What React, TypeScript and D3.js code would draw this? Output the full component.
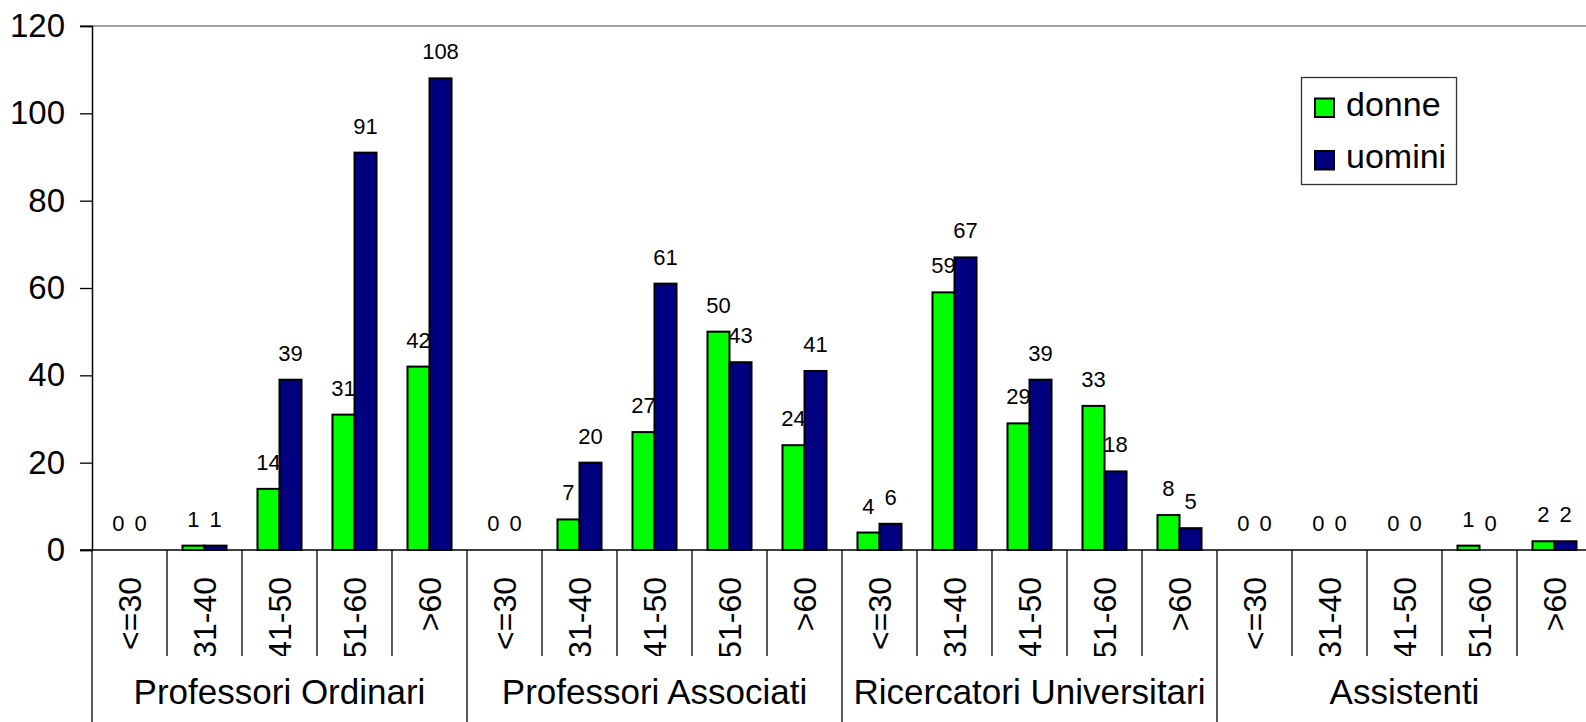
import { useEffect, useRef } from "react";
import * as d3 from "d3";

const groups = ["Professori Ordinari", "Professori Associati", "Ricercatori Universitari", "Assistenti"];
const ageBands = ["<=30", "31-40", "41-50", "51-60", ">60"];
const series = ["donne", "uomini"];

// one value per group × age band, in order
const donne = [0, 1, 14, 31, 42, 0, 7, 27, 50, 24, 4, 59, 29, 33, 8, 0, 0, 0, 1, 2];
const uomini = [0, 1, 39, 91, 108, 0, 20, 61, 43, 41, 6, 67, 39, 18, 5, 0, 0, 0, 0, 2];

const yTicks = [0, 20, 40, 60, 80, 100, 120];

const COLORS: Record<string, string> = { donne: "#00ff00", uomini: "#000080" };
const FONT = "'Liberation Sans', Arial, sans-serif";

export default function App() {
  const svgRef = useRef<SVGSVGElement>(null);

  useEffect(() => {
    if (!svgRef.current) return;
    const svg = d3.select(svgRef.current);
    svg.selectAll("*").remove();

    const W = 1586, H = 722;
    const left = 92, right = 1592, top = 26, base = 550;
    const labelBottom = 656;

    const keys = groups.flatMap((g) => ageBands.map((b) => `${g}|${b}`));
    const rows = keys.map((k, i) => ({ key: k, donne: donne[i], uomini: uomini[i] }));

    const x = d3.scaleBand<string>().domain(keys).range([left, right]).paddingInner(0.413).paddingOuter(0.2065);
    const xs = d3.scaleBand<string>().domain(series).range([0, x.bandwidth()]);
    const y = d3.scaleLinear().domain([0, 120]).range([base, top]);
    const half = (x.step() - x.bandwidth()) / 2;
    const cellLeft = (k: string) => (x(k) ?? 0) - half;

    svg.attr("width", W).attr("height", H);

    // top border of plot area
    svg.append("line")
      .attr("x1", 80).attr("x2", right).attr("y1", top).attr("y2", top)
      .attr("stroke", "#808080").attr("stroke-width", 1.5);

    // bars + value labels
    const g = svg.append("g");
    rows.forEach((r) => {
      series.forEach((s) => {
        const v = (r as any)[s] as number;
        const bx = (x(r.key) ?? 0) + (xs(s) ?? 0);
        g.append("rect")
          .attr("x", bx).attr("y", y(v))
          .attr("width", xs.bandwidth()).attr("height", base - y(v))
          .attr("fill", COLORS[s]).attr("stroke", "#000").attr("stroke-width", 2);
        g.append("text")
          .attr("x", bx + xs.bandwidth() / 2).attr("y", y(v) - 19)
          .attr("text-anchor", "middle").attr("font-family", FONT).attr("font-size", 22)
          .attr("fill", "#000").text(v);
      });
    });

    // y axis
    const ya = svg.append("g").attr("transform", `translate(${left},0)`)
      .call(d3.axisLeft(y).tickValues(yTicks).tickSize(12).tickPadding(15));
    ya.select(".domain").attr("stroke", "#000").attr("stroke-width", 1.5);
    ya.selectAll(".tick line").attr("stroke", "#000").attr("stroke-width", 1.3);
    ya.selectAll(".tick text").attr("font-family", FONT).attr("font-size", 33).attr("fill", "#000");

    // x baseline
    svg.append("line")
      .attr("x1", 80).attr("x2", right).attr("y1", base).attr("y2", base)
      .attr("stroke", "#000").attr("stroke-width", 1.5);

    // category separators
    keys.forEach((k, i) => {
      const isGroup = i % ageBands.length === 0;
      svg.append("line")
        .attr("x1", cellLeft(k)).attr("x2", cellLeft(k))
        .attr("y1", base).attr("y2", isGroup ? H : labelBottom)
        .attr("stroke", "#000").attr("stroke-width", 1.3);
    });

    // age band labels (rotated, clipped like the original)
    svg.append("clipPath").attr("id", "catclip")
      .append("rect").attr("x", 0).attr("y", base).attr("width", W).attr("height", labelBottom - base);
    const cl = svg.append("g").attr("clip-path", "url(#catclip)");
    keys.forEach((k) => {
      const cx = (x(k) ?? 0) + x.bandwidth() / 2;
      const band = k.split("|")[1];
      cl.append("text")
        .attr("transform", `translate(${cx},577) rotate(-90)`)
        .attr("dy", "0.36em").attr("text-anchor", "end")
        .attr("font-family", FONT).attr("font-size", 32).attr("fill", "#000")
        .text(band);
    });

    // group labels
    groups.forEach((gr) => {
      const first = `${gr}|${ageBands[0]}`;
      const last = `${gr}|${ageBands[ageBands.length - 1]}`;
      const cx = (cellLeft(first) + cellLeft(last) + x.step()) / 2;
      svg.append("text")
        .attr("x", cx).attr("y", 704)
        .attr("text-anchor", "middle").attr("font-family", FONT).attr("font-size", 35).attr("fill", "#000")
        .text(gr);
    });

    // legend
    const lg = svg.append("g");
    lg.append("rect").attr("x", 1301.5).attr("y", 77.5).attr("width", 155).attr("height", 107)
      .attr("fill", "#fff").attr("stroke", "#333").attr("stroke-width", 1.3);
    series.forEach((s, i) => {
      const yy = 98.5 + i * 52.5;
      lg.append("rect").attr("x", 1315).attr("y", yy).attr("width", 19).attr("height", 18.5)
        .attr("fill", COLORS[s]).attr("stroke", "#000").attr("stroke-width", 2);
      lg.append("text").attr("x", 1346).attr("y", yy + 17)
        .attr("font-family", FONT).attr("font-size", 34).attr("fill", "#000").text(s);
    });
  }, []);

  return (
    <div style={{ position: "absolute", left: 0, top: 0, background: "#fff" }}>
      <svg ref={svgRef} style={{ display: "block" }} />
    </div>
  );
}
